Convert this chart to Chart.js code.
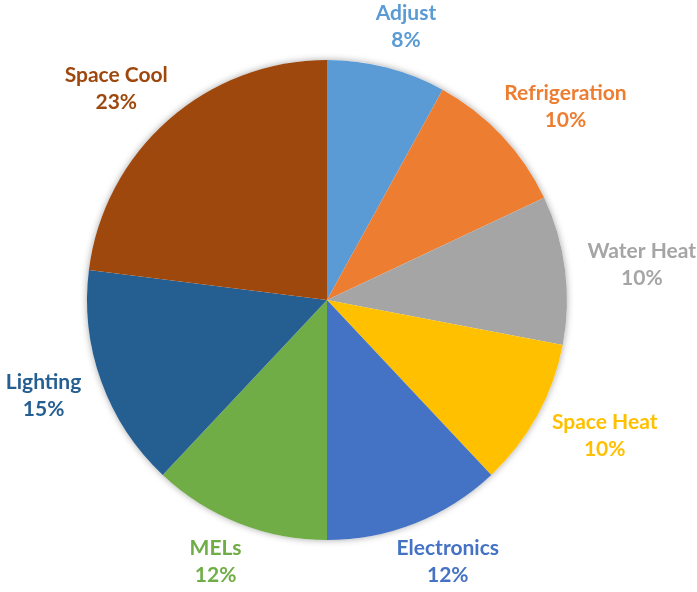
<!DOCTYPE html>
<html><head><meta charset="utf-8">
<script src="https://cdn.jsdelivr.net/npm/chart.js@4/dist/chart.umd.min.js"></script>
<style>html,body{margin:0;padding:0;background:#fff}#wrap{width:697px;height:592px}</style>
</head><body><div id="wrap"><canvas id="c"></canvas></div>
<script>
// End-use shares (percent), listed clockwise from 12 o'clock
const categories = ['Adjust', 'Refrigeration', 'Water Heat', 'Space Heat', 'Electronics', 'MELs', 'Lighting', 'Space Cool'];
const shares = [8, 10, 10, 10, 12, 12, 15, 23];
const sliceColors = ['#5B9BD5', '#ED7D31', '#A5A5A5', '#FFC000', '#4472C4', '#70AD47', '#255E91', '#9E480E'];

// Soft shadow under the whole pie
const pieShadow = {
  id: 'pieShadow',
  beforeDatasetsDraw(chart) {
    const arc = chart.getDatasetMeta(0).data[0];
    if (!arc) return;
    const ctx = chart.ctx;
    ctx.save();
    ctx.shadowColor = 'rgba(0,0,0,0.35)';
    ctx.shadowBlur = 7;
    ctx.fillStyle = '#fff';
    ctx.beginPath();
    ctx.arc(arc.x, arc.y, arc.outerRadius, 0, Math.PI * 2);
    ctx.fill();
    ctx.restore();
  }
};

// Two-line category / percentage labels placed just outside each slice
const outsideLabels = {
  id: 'outsideLabels',
  afterDatasetsDraw(chart) {
    const ctx = chart.ctx;
    const meta = chart.getDatasetMeta(0);
    const fontSize = 21, lineH = 27, gap = 15, sidePush = 8;
    ctx.save();
    ctx.font = `bold ${fontSize}px Lato`;
    ctx.textAlign = 'center';
    ctx.textBaseline = 'middle';
    meta.data.forEach((a, i) => {
      const mid = (a.startAngle + a.endAngle) / 2;
      const dx = Math.cos(mid), dy = Math.sin(mid);
      const r = a.outerRadius + gap;
      const px = a.x + dx * r, py = a.y + dy * r;
      const lines = [categories[i], shares[i] + '%'];
      const w = Math.max(...lines.map(t => ctx.measureText(t).width));
      const h = lineH * 2;
      const cx = px + dx * w / 2 + Math.sign(dx) * sidePush;
      const cy = py + dy * h / 2;
      ctx.fillStyle = sliceColors[i];
      ctx.fillText(lines[0], cx, cy - lineH / 2);
      ctx.fillText(lines[1], cx, cy + lineH / 2);
    });
    ctx.restore();
  }
};

new Chart(document.getElementById('c'), {
  type: 'pie',
  data: {
    labels: categories,
    datasets: [{
      data: shares,
      backgroundColor: sliceColors,
      borderWidth: 0
    }]
  },
  options: {
    responsive: true,
    maintainAspectRatio: false,
    animation: false,
    layout: { padding: { top: 60, bottom: 52, left: 87, right: 130 } },
    plugins: { legend: { display: false }, tooltip: { enabled: false } }
  },
  plugins: [pieShadow, outsideLabels]
});
</script>
</body></html>
